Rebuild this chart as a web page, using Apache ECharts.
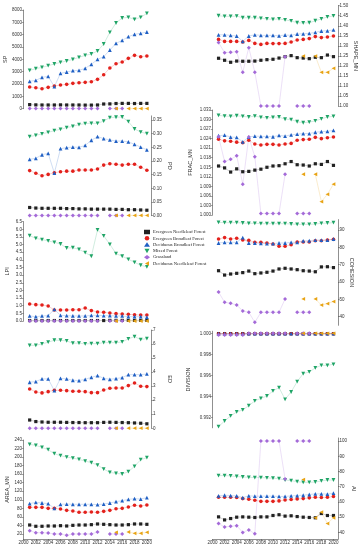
<!DOCTYPE html>
<html><head><meta charset="utf-8">
<script src="https://cdn.jsdelivr.net/npm/echarts@6/dist/echarts.min.js"></script>
<style>html,body{margin:0;padding:0;background:#fff}#c{width:362px;height:550px}</style>
</head><body><div id="c"></div>
<script>
const years = [2001,2002,2003,2004,2005,2006,2007,2008,2009,2010,2011,2012,2013,2014,2015,2016,2017,2018,2019,2020];
const xTicks = [2000,2002,2004,2006,2008,2010,2012,2014,2016,2018,2020];
const classes = ['Evergreen Needleleaf Forest','Evergreen Broadleaf Forest','Deciduous Broadleaf Forest','Mixed Forest','Grassland','Deciduous Needleleaf Forest'];

// SP
const sp_enf = [330,310,300,300,300,310,300,300,300,290,290,300,380,390,420,430,430,420,430,430];
const sp_ebf = [1757,1703,1622,1730,1838,1919,1973,2054,2108,2135,2189,2378,2757,3297,3649,3784,4081,4324,4216,4270];
const sp_dbf = [2216,2297,2541,2622,1784,2865,2973,3081,3108,3270,3595,4000,4216,4757,5297,5541,5838,6027,6108,6216];
const sp_mf  = [3108,3243,3351,3486,3622,3757,3865,4000,4162,4324,4432,4676,5243,6190,6946,7351,7405,7243,7405,7730];
const sp_gl  = [15,12,10,10,10,10,10,10,10,10,10,12,null,8,8,8,null,null,null,null];
const sp_dnf = [null,null,null,null,null,null,null,null,null,null,null,null,null,null,10,null,8,8,8,8];
const sp_ticks = [0,1000,2000,3000,4000,5000,6000,7000,8000];

// PD
const pd_enf = [0.030,0.028,0.027,0.027,0.027,0.027,0.026,0.026,0.025,0.025,0.024,0.024,0.024,0.024,0.023,0.023,0.022,0.022,0.021,0.020];
const pd_ebf = [0.165,0.155,0.146,0.151,0.157,0.161,0.163,0.163,0.167,0.167,0.167,0.171,0.185,0.190,0.188,0.185,0.188,0.188,0.177,0.166];
const pd_dbf = [0.206,0.210,0.223,0.228,0.156,0.245,0.249,0.251,0.250,0.257,0.276,0.289,0.282,0.277,0.273,0.273,0.270,0.261,0.251,0.241];
const pd_mf  = [0.289,0.294,0.299,0.305,0.311,0.316,0.322,0.327,0.333,0.337,0.338,0.338,0.346,0.359,0.360,0.361,0.344,0.317,0.306,0.300];
const pd_gl  = [0.001,0.001,0.001,0.001,0.001,0.001,0.001,0.001,0.001,0.001,0.001,0.001,null,0.001,0.001,0.001,null,null,null,null];
const pd_dnf = [null,null,null,null,null,null,null,null,null,null,null,null,null,null,0.001,null,0.001,0.001,0.001,0.001];
const pd_ticks = [0,0.05,0.10,0.15,0.20,0.25,0.30,0.35];

// LPI
const lpi_enf = [0.03,0.03,0.03,0.03,0.03,0.03,0.03,0.03,0.03,0.03,0.03,0.03,0.03,0.04,0.04,0.04,0.04,0.04,0.04,0.04];
const lpi_ebf = [1.11,1.07,1.05,0.98,0.72,0.72,0.72,0.74,0.74,0.85,0.68,0.59,0.57,0.52,0.48,0.46,0.44,0.41,0.39,0.39];
const lpi_dbf = [0.33,0.28,0.33,0.35,0.76,0.37,0.35,0.33,0.33,0.33,0.37,0.37,0.35,0.35,0.33,0.33,0.28,0.28,0.28,0.26];
const lpi_mf  = [5.59,5.41,5.33,5.24,5.15,5.04,4.78,4.80,4.69,4.48,4.24,5.96,5.57,5.02,4.41,4.24,4.04,3.84,3.65,3.54];
const lpi_gl  = [0.00,0.00,0.00,0.00,0.00,0.00,0.00,0.00,0.00,0.00,0.00,0.00,null,0.00,0.00,0.00,null,null,null,null];
const lpi_dnf = [null,null,null,null,null,null,null,null,null,null,null,null,null,null,0.00,null,0.00,0.00,0.00,0.00];
const lpi_ticks = [0,0.5,1.0,1.5,2.0,2.5,3.0,3.5,4.0,4.5,5.0,5.5,6.0,6.5];

// ED
const ed_enf = [0.59,0.48,0.45,0.43,0.43,0.43,0.42,0.41,0.41,0.40,0.40,0.40,0.42,0.43,0.42,0.41,0.40,0.38,0.36,0.32];
const ed_ebf = [2.80,2.59,2.52,2.61,2.71,2.71,2.68,2.64,2.64,2.61,2.54,2.54,2.73,2.85,2.87,2.87,3.04,3.23,2.99,2.97];
const ed_dbf = [3.28,3.33,3.52,3.52,2.68,3.56,3.52,3.42,3.40,3.49,3.63,3.75,3.56,3.49,3.54,3.61,3.82,3.82,3.82,3.87];
const ed_mf  = [5.91,5.91,6.01,6.13,6.27,6.27,6.22,6.06,6.06,6.01,6.03,6.03,6.10,6.10,6.10,6.15,6.37,6.53,6.32,6.39];
const ed_gl  = [0.01,0.01,0.01,0.01,0.01,0.01,0.01,0.01,0.01,0.01,0.01,0.01,null,0.01,0.01,0.01,null,null,null,null];
const ed_dnf = [null,null,null,null,null,null,null,null,null,null,null,null,null,null,0.01,null,0.01,0.01,0.01,0.01];
const ed_ticks = [0,1,2,3,4,5,6,7];

// AREA_MN
const area_enf = [41,38,38,38.7,38.7,39.4,38.7,40.2,41,41,41.8,43.4,42.6,41.8,41,41,41.8,43.4,43.4,42.6];
const area_ebf = [82.3,82.3,82.3,80,80,78.3,75.3,73.8,70.7,70.7,71.5,70.7,73,75.3,79.2,80,83.2,87.1,85.5,87.9];
const area_dbf = [91,94,92.5,91,80,89.5,90,89.5,89.5,89.5,89.5,88.7,90,92.5,95.6,98,101,102.6,101.8,105];
const area_mf  = [229.8,227.4,222.7,217.3,207.9,203.2,200.1,197.7,194.6,190.7,186.8,181.4,172,164.2,161.9,160.4,165.8,178.3,193.9,198.6];
const area_gl  = [27.6,23,23,22.3,20,20,16.9,20,20,20,20,24.6,null,20,20,20,null,null,null,null];
const area_dnf = [null,null,null,null,null,null,null,null,null,null,null,null,null,null,23.8,null,24.6,21.5,21.5,23.8];
const area_ticks = [20,40,60,80,100,120,140,160,180,200,220,240];

// SHAPE_MN
const shape_enf = [1.238,1.228,1.218,1.224,1.223,1.223,1.224,1.228,1.231,1.233,1.239,1.246,1.251,1.241,1.239,1.236,1.243,1.241,1.254,1.246];
const shape_ebf = [1.332,1.322,1.322,1.322,1.319,1.327,1.312,1.307,1.312,1.311,1.311,1.312,1.319,1.329,1.332,1.336,1.346,1.341,1.344,1.349];
const shape_dbf = [1.355,1.355,1.352,1.349,1.322,1.349,1.355,1.352,1.352,1.352,1.350,1.354,1.352,1.359,1.360,1.362,1.367,1.374,1.375,1.379];
const shape_mf  = [1.450,1.447,1.447,1.448,1.440,1.440,1.440,1.437,1.434,1.432,1.434,1.429,1.424,1.415,1.414,1.415,1.425,1.434,1.444,1.449];
const shape_gl  = [1.316,1.266,1.268,1.271,1.168,1.291,1.168,1.000,1.000,1.000,1.000,1.246,null,1.000,1.000,1.000,null,null,null,null];
const shape_dnf = [null,null,null,null,null,null,null,null,null,null,null,null,null,null,1.249,null,1.249,1.168,1.168,1.188];
const shape_ticks = [1.00,1.05,1.10,1.15,1.20,1.25,1.30,1.35,1.40,1.45,1.50];

// FRAC_MN
const frac_enf = [1.0154,1.0148,1.0135,1.0145,1.0136,1.0137,1.0141,1.0144,1.0150,1.0154,1.0155,1.0161,1.0168,1.0158,1.0157,1.0154,1.0161,1.0159,1.0168,1.0156];
const frac_ebf = [1.0238,1.0233,1.0232,1.0229,1.0227,1.0235,1.0223,1.0220,1.0222,1.0222,1.0220,1.0223,1.0225,1.0235,1.0237,1.0238,1.0244,1.0240,1.0243,1.0245];
const frac_dbf = [1.0249,1.0251,1.0245,1.0244,1.0230,1.0245,1.0248,1.0247,1.0247,1.0246,1.0250,1.0248,1.0252,1.0254,1.0256,1.0256,1.0260,1.0262,1.0263,1.0266];
const frac_mf  = [1.0313,1.0311,1.0310,1.0312,1.0310,1.0308,1.0311,1.0307,1.0305,1.0307,1.0308,1.0301,1.0300,1.0293,1.0290,1.0292,1.0296,1.0302,1.0308,1.0310];
const frac_gl  = [1.0246,1.0168,1.0175,1.0186,1.0097,1.0245,1.0183,1.0005,1.0005,1.0005,1.0005,1.0128,null,1.0005,1.0005,1.0005,null,null,null,null];
const frac_dnf = [null,null,null,null,null,null,null,null,null,null,null,null,null,null,1.0128,null,1.0128,1.0042,1.0065,1.0097];
const frac_ticks = [1.000,1.003,1.006,1.009,1.012,1.015,1.018,1.021,1.024,1.027,1.030,1.033];

// COHESION
const coh_enf = [66.5,64.0,64.6,65.0,65.4,66.3,64.8,65.2,65.6,66.3,67.5,67.9,67.5,67.1,66.5,66.3,65.9,68.7,68.8,68.3];
const coh_ebf = [84.8,85.6,84.8,85.2,84.2,84.0,82.9,82.9,82.5,81.9,80.6,80.6,81.5,83.1,83.1,83.1,83.8,83.8,84.2,84.6];
const coh_dbf = [82.5,82.9,82.9,82.9,85.6,82.5,82.5,82.3,82.1,82.1,82.5,82.5,82.9,82.9,83.7,83.8,84.2,84.2,84.2,84.8];
const coh_mf  = [94.42,94.23,94.23,94.23,94.04,93.85,93.85,93.65,93.65,93.65,93.65,93.65,93.46,93.27,93.27,93.27,93.46,93.85,94.04,94.23];
const coh_gl  = [54.2,48.3,47.7,46.7,43.3,42.5,36.7,42.5,42.5,42.5,42.5,50.2,null,42.5,42.5,42.5,null,null,null,null];
const coh_dnf = [null,null,null,null,null,null,null,null,null,null,null,null,null,null,50.2,null,50.2,46.7,47.5,48.7];
const coh_ticks = [40,50,60,70,80,90];

// DIVISION
const div_enf = [0.99997,0.99997,0.99997,0.99997,0.99997,0.99997,0.99997,0.99997,0.99997,0.99997,0.99997,0.99997,0.99997,0.99997,0.99997,0.99997,0.99997,0.99997,0.99997,0.99997];
const div_ebf = [0.99995,0.99995,0.99995,0.99995,0.99995,0.99995,0.99995,0.99995,0.99995,0.99995,0.99995,0.99995,0.99995,0.99995,0.99995,0.99995,0.99995,0.99995,0.99995,0.99995];
const div_dbf = [0.99996,0.99996,0.99996,0.99996,0.99996,0.99996,0.99996,0.99996,0.99996,0.99996,0.99996,0.99996,0.99996,0.99996,0.99996,0.99996,0.99996,0.99996,0.99996,0.99996];
const div_mf  = [0.99111,0.99165,0.99213,0.99251,0.99270,0.99311,0.99356,0.99381,0.99403,0.99451,0.99483,0.99371,0.99441,0.99540,0.99616,0.99632,0.99670,0.99695,0.99695,0.99705];
const div_gl  = [0.99985,0.99985,0.99985,0.99985,0.99985,1.00000,1.00000,1.00000,1.00000,1.00000,1.00000,1.00000,null,1.00000,1.00000,1.00000,null,null,null,null];
const div_dnf = [null,null,null,null,null,null,null,null,null,null,null,null,null,null,1.00000,null,1.00000,1.00000,1.00000,1.00000];
const div_ticks = [0.992,0.994,0.996,0.998,1.000];

// AI
const ai_enf = [50.2,48.2,49.1,50.0,50.2,50.0,49.8,50.2,50.2,51.1,51.6,50.7,50.9,50.4,50.0,49.8,49.6,52.4,51.1,51.1];
const ai_ebf = [63.1,63.1,63.1,62.9,62.2,61.8,61.1,60.4,60.4,60.4,60.7,61.3,61.6,62.0,62.2,62.7,63.1,62.9,63.1,63.6];
const ai_dbf = [64.0,64.4,64.2,64.0,62.9,64.0,63.8,63.8,63.8,63.8,63.6,63.6,64.0,64.2,64.4,64.9,65.3,65.3,65.1,65.8];
const ai_mf  = [77.3,77.3,77.1,76.7,76.4,76.2,76.0,76.0,75.8,75.6,75.3,74.4,74.0,73.3,72.9,72.9,73.1,73.8,74.4,74.4];
const ai_gl  = [45.8,43.6,44.0,44.4,40.0,41.6,39.1,100,100,100,100,75.1,null,100,100,100,null,null,null,null];
const ai_dnf = [null,null,null,null,null,null,null,null,null,null,null,null,null,null,74.7,null,49.6,53.3,45.8,49.6];
const ai_ticks = [40,50,60,70,80,90,100];

// ---------- layout & style (not data) ----------
const colors = ['#222222','#e3211c','#1f5fc4','#1fa466','#a46ad8','#e8a313'];
const symbols = ['rect','circle','triangle','path://M0,0L10,0L5,9Z','diamond','path://M0,5L9,0L9,10Z'];
const symSizes = [3.2,3.6,3.8,3.8,4,3.8];

const panels = [
  {name:'SP',       d:[sp_enf,sp_ebf,sp_dbf,sp_mf,sp_gl,sp_dnf],             t:sp_ticks,    col:0, top:10,    h:98.7,  min:0,     max:8000,  side:'left',  gap:14.5, dec:0},
  {name:'PD',       d:[pd_enf,pd_ebf,pd_dbf,pd_mf,pd_gl,pd_dnf],             t:pd_ticks,    col:0, top:115.9, h:99.8,  min:0,     max:0.365, side:'right', gap:15,   dec:2},
  {name:'LPI',      d:[lpi_enf,lpi_ebf,lpi_dbf,lpi_mf,lpi_gl,lpi_dnf],       t:lpi_ticks,   col:0, top:221.7, h:99.3,  min:0,     max:6.5,   side:'left',  gap:13,   dec:1},
  {name:'ED',       d:[ed_enf,ed_ebf,ed_dbf,ed_mf,ed_gl,ed_dnf],             t:ed_ticks,    col:0, top:330,   h:98.3,  min:0,     max:7,     side:'right', gap:15,   dec:0},
  {name:'AREA_MN',  d:[area_enf,area_ebf,area_dbf,area_mf,area_gl,area_dnf], t:area_ticks,  col:0, top:440,   h:99.1,  min:8,     max:240,   side:'left',  gap:9,    dec:0, bottom:true},
  {name:'SHAPE_MN', d:[shape_enf,shape_ebf,shape_dbf,shape_mf,shape_gl,shape_dnf], t:shape_ticks, col:1, top:5.7, h:100.3, min:1.0, max:1.5, side:'right', gap:14, dec:2},
  {name:'FRAC_MN',  d:[frac_enf,frac_ebf,frac_dbf,frac_mf,frac_gl,frac_dnf], t:frac_ticks,  col:1, top:110,   h:105,   min:1.000, max:1.033, side:'left',  gap:19,   dec:3},
  {name:'COHESION', d:[coh_enf,coh_ebf,coh_dbf,coh_mf,coh_gl,coh_dnf],       t:coh_ticks,   col:1, top:219.6, h:105.7, min:35,    max:96,    side:'right', gap:10.5, dec:0},
  {name:'DIVISION', d:[div_enf,div_ebf,div_dbf,div_mf,div_gl,div_dnf],       t:div_ticks,   col:1, top:331.2, h:96.6,  min:0.991, max:1.0002,side:'left',  gap:21,   dec:3},
  {name:'AI',       d:[ai_enf,ai_ebf,ai_dbf,ai_mf,ai_gl,ai_dnf],             t:ai_ticks,    col:1, top:438,   h:101.1, min:35.6,  max:102,   side:'right', gap:6.5,  dec:0, bottom:true}
];
const cols = [{left:23.5, width:128},{left:212.5, width:125.5}];

const axColor = '#444';
const tickFont = {fontSize:4.5, color:'#333', fontFamily:'Liberation Sans'};

const grid = [], xAxis = [], yAxis = [], series = [];
panels.forEach((p, i) => {
  const c = cols[p.col];
  grid.push({left:c.left, top:p.top, width:c.width, height:p.h});
  xAxis.push({
    type:'value', gridIndex:i, min:2000, max:2020.75, show: !!p.bottom,
    axisLine:{show:true, lineStyle:{color:axColor, width:0.6}},
    axisTick:{show:true, length:2, lineStyle:{color:axColor, width:0.5}, customValues:xTicks},
    axisLabel:{show:true, margin:1.5, ...tickFont, customValues:xTicks, formatter:v => (xTicks.indexOf(v) >= 0 ? String(v) : '')},
    splitLine:{show:false}
  });
  yAxis.push({
    type:'value', gridIndex:i, min:p.min, max:p.max, position:p.side,
    name:p.name, nameLocation:'middle', nameGap:p.gap, nameRotate: p.side === 'left' ? 90 : -90,
    nameTextStyle:{fontSize:5.5, color:'#333', fontFamily:'Liberation Sans'},
    axisLine:{show:true, onZero:false, lineStyle:{color:axColor, width:0.6}},
    axisTick:{show:true, length:1.8, lineStyle:{color:axColor, width:0.5}, customValues:p.t},
    axisLabel:{show:true, margin:1.5, ...tickFont, customValues:p.t,
      formatter:v => (p.t.some(t => Math.abs(t - v) < 1e-9) ? v.toFixed(p.dec) : '')},
    splitLine:{show:false}
  });
  p.d.forEach((arr, k) => {
    series.push({
      type:'line', name:classes[k], xAxisIndex:i, yAxisIndex:i,
      data: years.map((y, j) => [y, arr[j] === null ? '-' : arr[j]]),
      symbol:symbols[k], symbolSize:symSizes[k], showSymbol:true,
      itemStyle:{color:colors[k]},
      lineStyle:{color:colors[k], width:0.6, opacity:0.35},
      connectNulls:false, clip:false, animation:false, silent:true
    });
  });
});

const chart = echarts.init(document.getElementById('c'), null, {renderer:'canvas'});
chart.setOption({
  animation:false,
  backgroundColor:'#fff',
  grid, xAxis, yAxis, series,
  legend:{
    orient:'vertical', left:139, top:224.5, itemWidth:6, itemHeight:4.5, itemGap:1.3,
    textStyle:{fontSize:4.6, color:'#222', fontFamily:'Liberation Serif', padding:[0,0,0,-2]},
    data: classes.map((n, k) => ({name:n, icon:symbols[k], itemStyle:{color:colors[k]}}))
  }
});
</script></body></html>
